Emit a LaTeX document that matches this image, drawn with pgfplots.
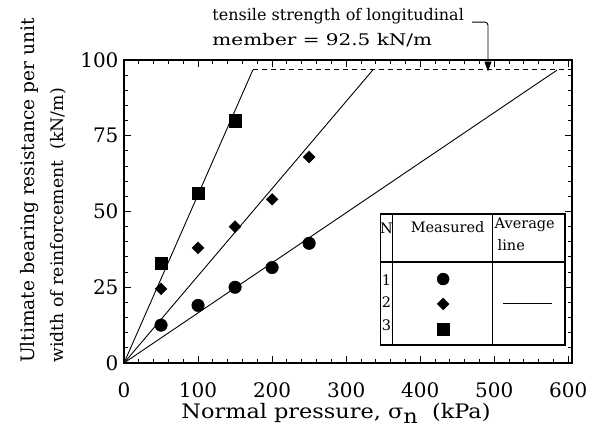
\documentclass[border=0pt]{standalone}
\usepackage{fontspec}
\setmainfont{DejaVu Serif}
\usepackage{pgfplots}
\pgfplotsset{compat=1.18}
\usetikzlibrary{arrows.meta}
\begin{document}
\begin{tikzpicture}
\begin{axis}[
 scale only axis, width=448pt, height=303pt,
 xmin=0, xmax=605, ymin=0, ymax=100,
 xtick={0,100,...,600}, ytick={0,25,...,100},
 minor x tick num=4, minor y tick num=4,
 tick pos=both, tick align=inside,
 major tick length=7pt, minor tick length=4pt,
 axis line style={line width=1.4pt},
 every tick/.style={black, line width=0.9pt},
 ticklabel style={font=\fontsize{20}{22}\selectfont},
 xticklabel style={yshift=-16pt},
 yticklabel style={xshift=-2pt},
 /pgf/number format/assume math mode=true,
 xlabel={\scalebox{1.12}[1]{Normal pressure, σ\raisebox{-0.5ex}{n}\ \ (kPa)}},
 xlabel style={font=\fontsize{20}{22}\selectfont, yshift=1pt, xshift=-12pt},
 clip=false,
]
% average lines
\addplot[black, line width=0.9pt] coordinates {(0,0) (174,96.7)};
\addplot[black, line width=0.9pt] coordinates {(0,0) (336,96.7)};
\addplot[black, line width=0.9pt] coordinates {(0,0) (585,96.7)};
\addplot[black, line width=1pt, dash pattern=on 5pt off 4pt] coordinates {(174,96.7) (603,96.7)};
% measured
\addplot[only marks, mark=*, mark size=6.3pt, black] coordinates {(50,12.5) (100,19) (150,25) (200,31.5) (250,39.5)};
\addplot[only marks, mark=square*, mark options={rotate=45}, mark size=4.2pt, black] coordinates {(50,24.5) (100,38) (150,45) (200,54) (250,68)};
\addplot[only marks, mark=square*, mark size=6.3pt, black] coordinates {(50,33) (100,56) (150,80)};
% legend table
\draw[line width=1.3pt] (axis cs:346,5.9) rectangle (axis cs:595.5,49.2);
\draw[line width=1.3pt] (axis cs:346,33.3) -- (axis cs:595.5,33.3);
\draw[line width=1.1pt] (axis cs:363,5.9) -- (axis cs:363,49.2);
\draw[line width=1.1pt] (axis cs:498,5.9) -- (axis cs:498,49.2);
\addplot[only marks, mark=*, mark size=6pt, black] coordinates {(431,27.7)};
\addplot[only marks, mark=square*, mark options={rotate=45}, mark size=4.2pt, black] coordinates {(431,19.5)};
\addplot[only marks, mark=square*, mark size=6pt, black] coordinates {(431,11.2)};
\addplot[black, line width=1pt] coordinates {(512,19.8) (578,19.8)};
\begin{scope}[font=\fontsize{14.5}{22}\selectfont]
\node at (axis cs:354.5,44.5) {N};
\node at (axis cs:437,44.8) {Measured};
\node[anchor=north west, align=left, inner sep=1pt] at (axis cs:499,48.2) {Average\\\hspace{3pt}line};
\node at (axis cs:354.5,27.4) {1};
\node at (axis cs:354.5,20.1) {2};
\node at (axis cs:354.5,12.5) {3};
\end{scope}
% annotation
\node[anchor=south west, align=left, inner sep=0pt, font=\fontsize{16}{25}\selectfont]
  at (axis description cs:0.197,1) [yshift=13pt] {tensile strength of longitudinal\\\scalebox{1.25}[1]{member = 92.5 kN/m}};
\draw[line width=0.9pt, rounded corners=3pt, -{Triangle[width=7pt,length=10pt]}]
  (axis cs:470,112.5) -- (axis cs:491.5,112.5) -- (axis cs:491.5,96.2);
% y label
\node[rotate=90, anchor=north west, align=left, inner sep=0pt, font=\fontsize{17.3}{29}\selectfont]
  at (axis description cs:-0.232,0.0) {{\fontsize{18.6}{29}\selectfont Ultimate bearing resistance per unit}\\width of reinforcement\ \ (kN/m)};
% frame of the picture
\path (axis description cs:-0.2768,-0.2475) rectangle (axis description cs:1.0625,1.198);
\end{axis}
\end{tikzpicture}
\end{document}
